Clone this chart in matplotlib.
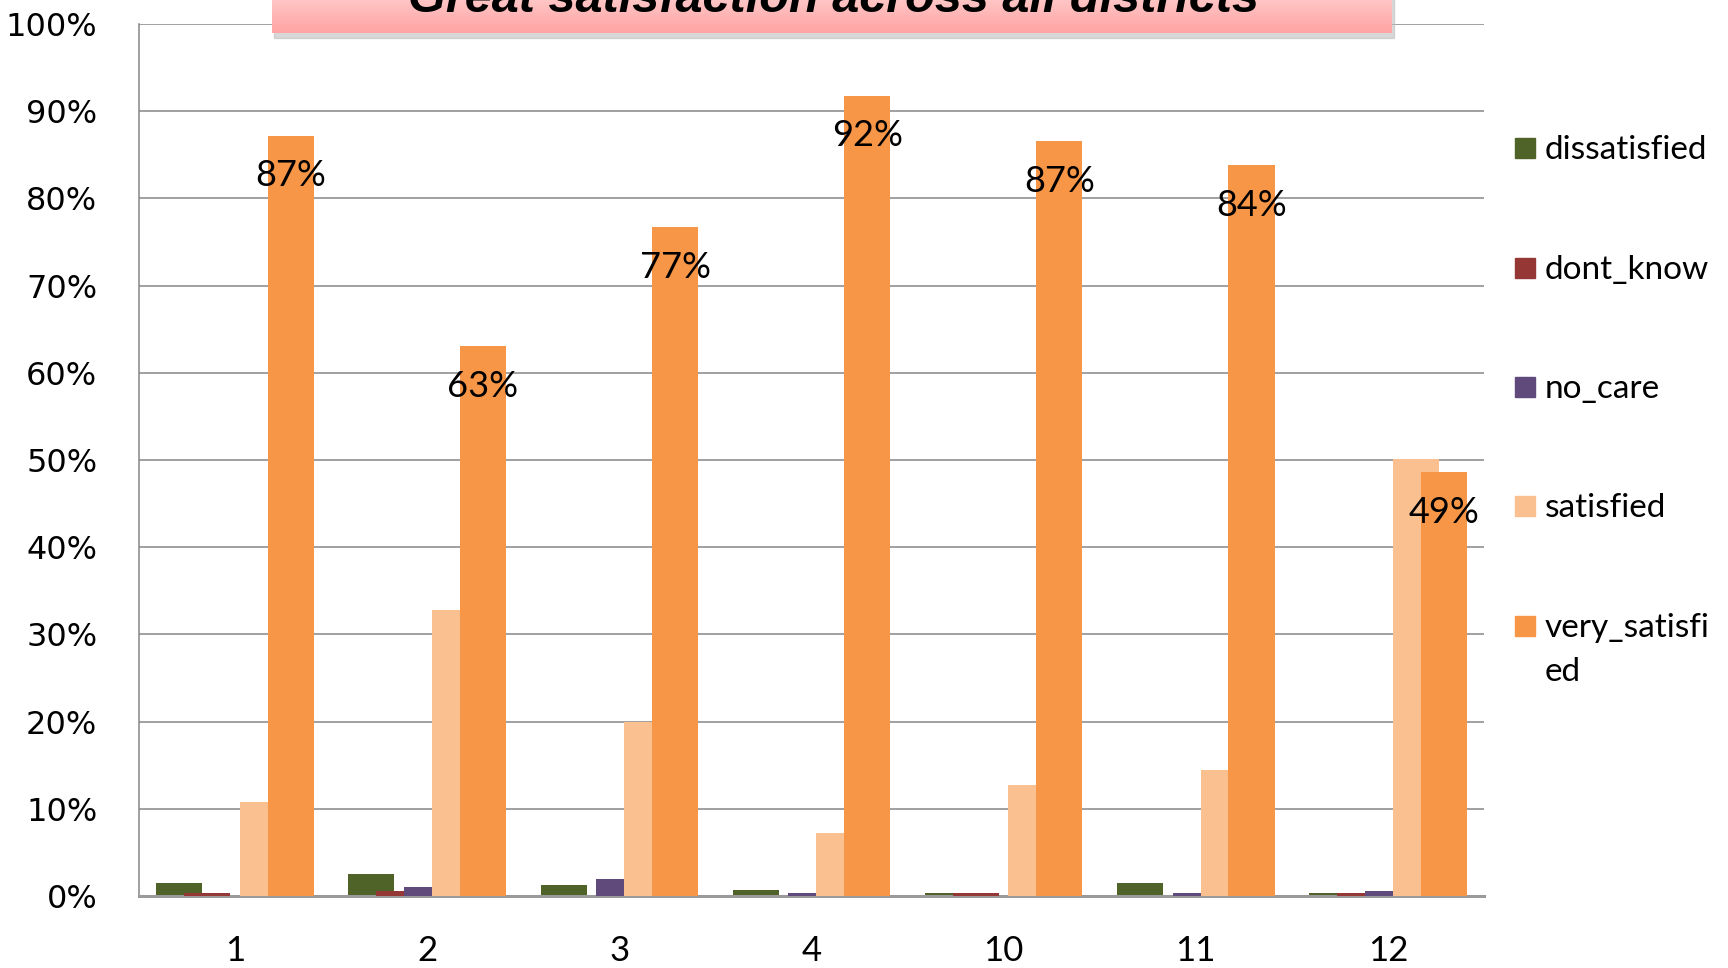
import matplotlib.pyplot as plt
import numpy as np
from matplotlib.patches import Rectangle
from matplotlib.colors import LinearSegmentedColormap

districts = ['1', '2', '3', '4', '10', '11', '12']
series_names = ['dissatisfied', 'dont_know', 'no_care', 'satisfied', 'very_satisfied']
dissatisfied = [1.5, 2.5, 1.3, 0.7, 0.3, 1.5, 0.3]
dont_know = [0.3, 0.6, 0.0, 0.0, 0.3, 0.0, 0.3]
no_care = [0.0, 1.0, 2.0, 0.3, 0.0, 0.3, 0.6]
satisfied = [10.8, 32.8, 19.9, 7.2, 12.7, 14.4, 50.1]
very_satisfied = [87.2, 63.1, 76.7, 91.8, 86.6, 83.8, 48.6]
colors = ['#4F6228', '#953735', '#604A7B', '#FAC090', '#F79646']
legend_labels = ['dissatisfied', 'dont_know', 'no_care', 'satisfied', 'very_satisfi\ned']
title = 'Great satisfaction across all districts'

values = [dissatisfied, dont_know, no_care, satisfied, very_satisfied]

fig = plt.figure(figsize=(17.28, 9.68), dpi=100)
ax = fig.add_axes([0.0804, 0.0744, 0.7784, 0.9008])

x = np.arange(len(districts))
width = 0.24
step = 0.145
bars = []
for i, (vals, col) in enumerate(zip(values, colors)):
    b = ax.bar(x + (i - 2) * step, vals, width, color=col, zorder=2 + i, linewidth=0)
    bars.append(b)

# value labels on the very_satisfied bars
for rect, v in zip(bars[-1], very_satisfied):
    ax.annotate(f'{v:.0f}%', (rect.get_x() + rect.get_width() / 2, v),
                xytext=(0, -29), textcoords='offset points',
                ha='center', va='center', fontsize=26, family='Lato',
                color='black', zorder=10)

ax.set_xlim(-0.5, 6.5)
ax.set_ylim(0, 100)
ax.set_yticks(np.arange(0, 101, 10))
ax.set_yticklabels([f'{t}%' for t in range(0, 101, 10)], fontsize=23, family='DejaVu Sans')
ax.set_xticks(x)
ax.set_xticklabels(districts, fontsize=25, family='Lato')
ax.tick_params(axis='y', length=0, pad=30)
ax.tick_params(axis='x', length=0, pad=28)
ax.yaxis.grid(True, color='#868686', linewidth=1.1, zorder=0)
ax.set_axisbelow(True)
for s in ['top', 'right']:
    ax.spines[s].set_visible(False)
ax.spines['left'].set_color('#868686')
ax.spines['left'].set_linewidth(1.1)
ax.spines['bottom'].set_color('#9a9a9a')
ax.spines['bottom'].set_linewidth(2.2)

# legend on the right
fig_w, fig_h = 1728, 968
legend_y = [148, 268, 387, 506, 626]
line_gap = 44
for lab, col, yy in zip(legend_labels, colors, legend_y):
    fig.patches.append(Rectangle((1515 / fig_w, 1 - (yy + 10) / fig_h), 20 / fig_w, 20 / fig_h,
                                 transform=fig.transFigure, color=col))
    for k, line in enumerate(lab.split('\n')):
        fig.text(1545 / fig_w, 1 - (yy + 2 + k * line_gap) / fig_h, line, fontsize=24,
                 family='Lato', va='center', ha='left')

# title banner, partly cut by the top edge
grad = np.linspace(0, 1, 64).reshape(-1, 1)
shadow = Rectangle((274 / fig_w, 1 - 38 / fig_h), 1120 / fig_w, 40 / fig_h,
                   transform=fig.transFigure, color='#b8b8b8', alpha=0.55, zorder=5)
fig.patches.append(shadow)
banner_ax = fig.add_axes([272 / fig_w, 1 - 33 / fig_h, 1120 / fig_w, 40 / fig_h], zorder=6)
banner_ax.imshow(grad, aspect='auto', extent=(0, 1, 0, 1),
                 cmap=LinearSegmentedColormap.from_list('banner', ['#ffa3a3', '#ffcccc']),
                 origin='lower')
banner_ax.set_axis_off()
fig.text(834 / fig_w, 1 - 12 / fig_h, title, fontsize=35, family='Liberation Sans',
         weight='bold', style='italic', ha='center', va='baseline', zorder=7)

fig.savefig('out.png', dpi=100)
